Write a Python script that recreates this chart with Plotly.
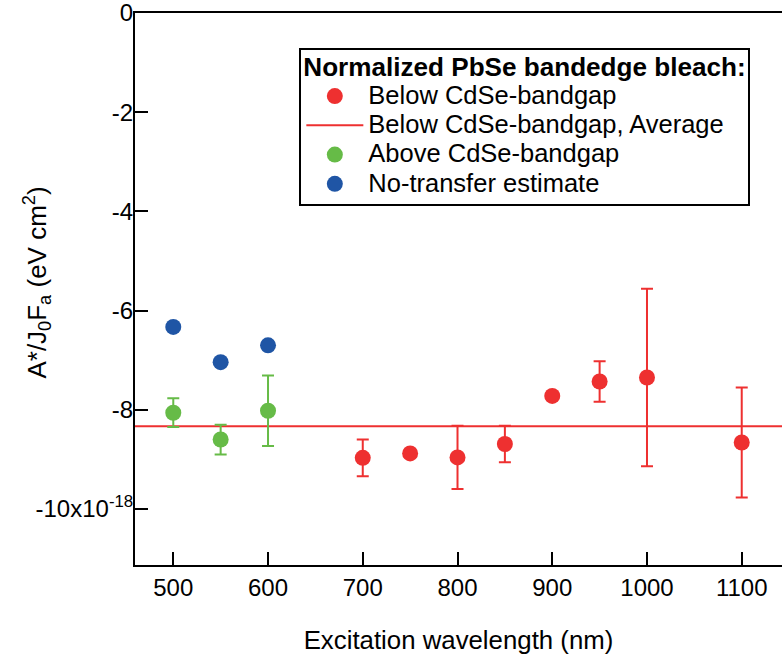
import numpy as np
import plotly.graph_objects as go

# Excitation wavelengths (nm) and normalized bleach values (units of 1e-18 eV cm^2)
below_wl = [700, 750, 800, 850, 900, 950, 1000, 1100]
below_val = [-8.97, -8.88, -8.96, -8.69, -7.72, -7.43, -7.35, -8.66]
below_err = [0.37, 0.05, 0.64, 0.37, 0.08, 0.41, 1.79, 1.11]

above_wl = [500, 550, 600]
above_val = [-8.06, -8.60, -8.02]
above_err = [0.29, 0.30, 0.71]

notransfer_wl = [500, 550, 600]
notransfer_val = [-6.33, -7.04, -6.70]

y_tickvals = [0, -2, -4, -6, -8, -10]
y_ticktext = ["0", "-2", "-4", "-6", "-8", "-10x10<sup>-18</sup>"]
x_tickvals = [500, 600, 700, 800, 900, 1000, 1100]

x_range = [459.6, 1142.5]
y_range = [-11.13, 0]

RED = "#EE3030"
GREEN = "#66BB47"
BLUE = "#1F55A5"
FONT = "Liberation Sans, Arial, Helvetica, sans-serif"
LEGEND_TEXT_PX = 25.5


def legend_label(text, bold=False, px=LEGEND_TEXT_PX):
    inner = f"<b>{text}</b>" if bold else text
    return f"<span style='font-size:{px}px'>{inner}</span>"


below_avg = float(np.mean(below_val))

fig = go.Figure()

fig.add_trace(go.Scatter(
    x=x_range, y=[below_avg, below_avg], mode="lines",
    line=dict(color=RED, width=2),
    name=legend_label("Below CdSe-bandgap, Average"), legendrank=2,
))
fig.add_trace(go.Scatter(
    x=below_wl, y=below_val, mode="markers",
    marker=dict(color=RED, size=16),
    error_y=dict(type="data", array=below_err, color=RED, thickness=2, width=6),
    name=legend_label("Below CdSe-bandgap"), legendrank=1,
))
fig.add_trace(go.Scatter(
    x=above_wl, y=above_val, mode="markers",
    marker=dict(color=GREEN, size=16),
    error_y=dict(type="data", array=above_err, color=GREEN, thickness=2, width=6),
    name=legend_label("Above CdSe-bandgap"), legendrank=3,
))
fig.add_trace(go.Scatter(
    x=notransfer_wl, y=notransfer_val, mode="markers",
    marker=dict(color=BLUE, size=16),
    name=legend_label("No-transfer estimate"), legendrank=4,
))

fig.update_layout(
    width=782, height=662,
    margin=dict(l=135, r=0, t=13, b=97),
    paper_bgcolor="white", plot_bgcolor="white",
    font=dict(family=FONT, size=24, color="black"),
    showlegend=True,
    legend=dict(
        x=0.254, y=0.937, xanchor="left", yanchor="top",
        bordercolor="black", borderwidth=2, bgcolor="white",
        font=dict(family=FONT, size=20.2, color="black"),
        itemwidth=57,
        title=dict(text=legend_label("Normalized PbSe bandedge bleach:", bold=True, px=26.1),
                   font=dict(family=FONT, size=20.5, color="black")),
        traceorder="normal", tracegroupgap=0,
    ),
    xaxis=dict(
        range=x_range, tickvals=x_tickvals,
        ticks="inside", ticklen=13, tickwidth=2, tickcolor="black",
        showline=True, linecolor="black", linewidth=2, mirror=True,
        showgrid=False, zeroline=False,
        title=dict(text="Excitation wavelength (nm)", standoff=31,
                   font=dict(size=25.8)),
        tickfont=dict(size=24),
    ),
    yaxis=dict(
        range=y_range, tickvals=y_tickvals, ticktext=y_ticktext,
        ticks="inside", ticklen=13, tickwidth=2, tickcolor="black",
        showline=True, linecolor="black", linewidth=2,
        showgrid=False, zeroline=False,
        ticklabeloverflow="allow", ticklabelstandoff=-5,
        tickfont=dict(size=24),
    ),
    annotations=[dict(
        text="A*/J<sub>0</sub>F<sub>a</sub> (eV cm<sup>2</sup>)",
        xref="paper", yref="paper", x=-0.152, y=0.511,
        xanchor="center", yanchor="middle", textangle=-90,
        showarrow=False, font=dict(family=FONT, size=26, color="black"),
    )],
)

fig.write_html("out.html")
